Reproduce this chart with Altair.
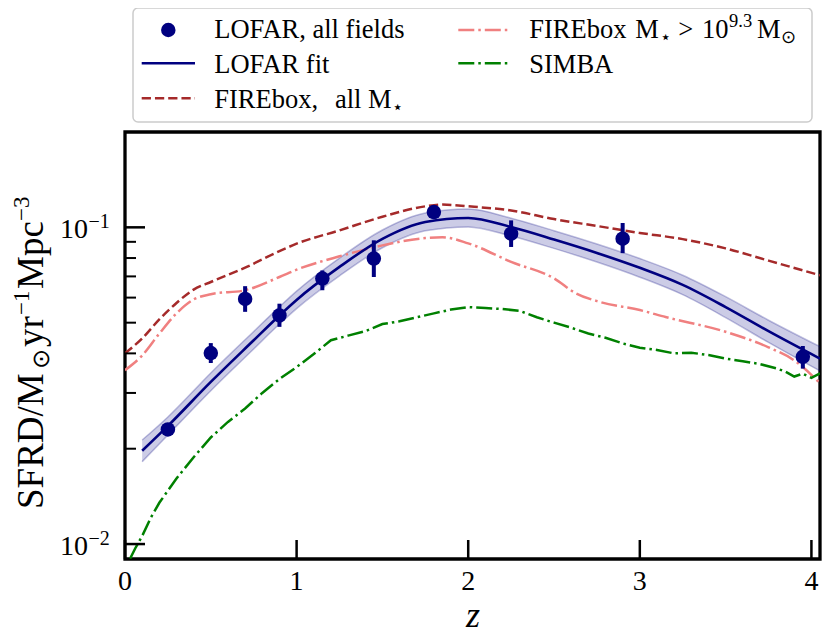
import altair as alt
import pandas as pd

# ---------------- data ----------------
lofar_z = [0.25, 0.50, 0.70, 0.90, 1.15, 1.45, 1.80, 2.25, 2.90, 3.95]
lofar_sfrd = [0.0230, 0.0401, 0.0594, 0.0527, 0.0689, 0.0797, 0.1117, 0.0955, 0.0921, 0.0390]
lofar_lo = [0.0222, 0.0373, 0.0541, 0.0485, 0.0633, 0.0697, 0.1085, 0.0867, 0.0829, 0.0358]
lofar_hi = [0.0238, 0.0431, 0.0652, 0.0574, 0.0731, 0.0910, 0.1150, 0.1052, 0.1032, 0.0422]

fit_z = [0.1, 0.25, 0.5, 0.75, 0.9, 1.0, 1.25, 1.5, 1.75, 2.0, 2.25, 2.5, 2.75, 3.0, 3.25, 3.5, 3.75, 4.05]
fit_mid = [0.0197, 0.0236, 0.0325, 0.0440, 0.0527, 0.0590, 0.0750, 0.0920, 0.1040, 0.1070, 0.1002,
           0.0915, 0.0830, 0.0745, 0.0658, 0.0560, 0.0470, 0.0385]
fit_lo = [0.0182, 0.0221, 0.0305, 0.0413, 0.0495, 0.0554, 0.0703, 0.0862, 0.0975, 0.1003, 0.0939,
          0.0858, 0.0777, 0.0696, 0.0613, 0.0519, 0.0433, 0.0352]
fit_hi = [0.0213, 0.0252, 0.0347, 0.0469, 0.0561, 0.0629, 0.0800, 0.0981, 0.1110, 0.1142, 0.1069,
          0.0976, 0.0886, 0.0797, 0.0706, 0.0604, 0.0509, 0.0420]

fbx_all_z = [0.0, 0.1, 0.2, 0.3, 0.4, 0.5, 0.7, 0.9, 1.0, 1.25, 1.5, 1.75, 1.85, 2.0, 2.25, 2.5, 2.75,
             3.0, 3.25, 3.5, 3.75, 4.05]
fbx_all = [0.0400, 0.0446, 0.0512, 0.0577, 0.0636, 0.0672, 0.0746, 0.0841, 0.0888, 0.0978, 0.1080,
           0.1165, 0.1180, 0.1165, 0.1130, 0.1062, 0.1010, 0.0960, 0.0918, 0.0858, 0.0785, 0.0706]

fbx_hi_z = [0.0, 0.1, 0.2, 0.3, 0.4, 0.5, 0.7, 0.9, 1.0, 1.25, 1.5, 1.75, 1.85, 2.0, 2.25, 2.5, 2.63,
            2.77, 3.0, 3.15, 3.5, 3.75, 3.9, 4.05]
fbx_hi = [0.0354, 0.0394, 0.0462, 0.0535, 0.0592, 0.0615, 0.0633, 0.0697, 0.0735, 0.0810, 0.0877,
          0.0925, 0.0930, 0.0890, 0.0778, 0.0690, 0.0618, 0.0581, 0.0548, 0.0521, 0.0468, 0.0418,
          0.0380, 0.0322]

simba_z = [0.03, 0.06, 0.1, 0.15, 0.2, 0.3, 0.4, 0.5, 0.6, 0.7, 0.8, 0.9, 1.0, 1.1, 1.2, 1.3, 1.4,
           1.5, 1.6, 1.7, 1.8, 1.9, 2.0, 2.1, 2.2, 2.3, 2.4, 2.5, 2.6, 2.7, 2.8, 2.9, 3.0, 3.1, 3.2,
           3.3, 3.4, 3.5, 3.6, 3.7, 3.8, 3.85, 3.9, 3.95, 4.0, 4.05]
simba = [0.0090, 0.0097, 0.0106, 0.0121, 0.0135, 0.0161, 0.0188, 0.0217, 0.0243, 0.0268, 0.0300,
         0.0332, 0.0362, 0.0398, 0.0440, 0.0455, 0.0470, 0.0495, 0.0505, 0.0520, 0.0535, 0.0550,
         0.0560, 0.0556, 0.0552, 0.0545, 0.0520, 0.0500, 0.0482, 0.0462, 0.0448, 0.0430, 0.0417,
         0.0410, 0.0400, 0.0402, 0.0395, 0.0385, 0.0378, 0.0370, 0.0358, 0.0350, 0.0338, 0.0345,
         0.0335, 0.0346]

x_ticks = [0, 1, 2, 3, 4]
x_tick_labels = ["0", "1", "2", "3", "4"]
y_major = [0.01, 0.1]
y_major_exp = ["\u22122", "\u22121"]
y_minor = [0.02, 0.03, 0.04, 0.05, 0.06, 0.07, 0.08, 0.09]

# ---------------- styling ----------------
NAVY = "#000080"
BROWN = "#a52a2a"
CORAL = "#f08080"
GREEN = "#008000"
FONT = "Liberation Serif"
W, H = 695, 427

X = alt.Scale(domain=[0, 4.05], nice=False, zero=False)
Y = alt.Scale(type="log", domain=[0.00897, 0.2], nice=False)


def xe(f):
    return alt.X(f, type="quantitative", scale=X, axis=None)


def ye(f):
    return alt.Y(f, type="quantitative", scale=Y, axis=None)


df_pts = pd.DataFrame({"z": lofar_z, "v": lofar_sfrd, "lo": lofar_lo, "hi": lofar_hi})
df_fit = pd.DataFrame({"z": fit_z, "v": fit_mid, "lo": fit_lo, "hi": fit_hi})
df_fa = pd.DataFrame({"z": fbx_all_z, "v": fbx_all})
df_fh = pd.DataFrame({"z": fbx_hi_z, "v": fbx_hi})
df_sb = pd.DataFrame({"z": simba_z, "v": simba})
df_xt = pd.DataFrame({"z": x_ticks, "lab": x_tick_labels})
df_yt = pd.DataFrame({"v": y_major, "exp": y_major_exp, "base": ["10", "10"]})
df_ym = pd.DataFrame({"v": y_minor})
one = pd.DataFrame({"a": [0]})

band = alt.Chart(df_fit).mark_area(color=NAVY, opacity=0.2, clip=True, interpolate="monotone").encode(
    x=xe("z"), y=ye("lo"), y2="hi")
band_lo = alt.Chart(df_fit).mark_line(color=NAVY, opacity=0.25, strokeWidth=1.5, clip=True,
                                      interpolate="monotone").encode(x=xe("z"), y=ye("lo"))
band_hi = alt.Chart(df_fit).mark_line(color=NAVY, opacity=0.25, strokeWidth=1.5, clip=True,
                                      interpolate="monotone").encode(x=xe("z"), y=ye("hi"))
fit_line = alt.Chart(df_fit).mark_line(color=NAVY, strokeWidth=2.6, clip=True,
                                       interpolate="monotone").encode(x=xe("z"), y=ye("v"))
fa_line = alt.Chart(df_fa).mark_line(color=BROWN, strokeWidth=2.5, strokeDash=[9.25, 4], clip=True,
                                     interpolate="monotone").encode(x=xe("z"), y=ye("v"))
fh_line = alt.Chart(df_fh).mark_line(color=CORAL, strokeWidth=2.5, strokeDash=[16, 4, 2.5, 4], clip=True,
                                     interpolate="monotone").encode(x=xe("z"), y=ye("v"))
sb_line = alt.Chart(df_sb).mark_line(color=GREEN, strokeWidth=2.5, strokeDash=[16, 4, 2.5, 4],
                                     clip=True).encode(x=xe("z"), y=ye("v"))
err = alt.Chart(df_pts).mark_rule(color=NAVY, strokeWidth=4).encode(x=xe("z"), y=ye("lo"), y2="hi")
pts = alt.Chart(df_pts).mark_circle(color=NAVY, size=210, opacity=1).encode(x=xe("z"), y=ye("v"))

# ticks (inward) and tick labels
xt = alt.Chart(df_xt).mark_rule(color="black", strokeWidth=2.5).encode(
    x=xe("z"), y=alt.value(H), y2=alt.value(H - 19))
xl = alt.Chart(df_xt).mark_text(font=FONT, fontSize=28, align="center", baseline="alphabetic",
                                color="black").encode(x=xe("z"), y=alt.value(H + 31), text="lab:N")
yt = alt.Chart(df_yt).mark_rule(color="black", strokeWidth=2.5).encode(
    y=ye("v"), x=alt.value(0), x2=alt.value(20))
ym = alt.Chart(df_ym).mark_rule(color="black", strokeWidth=2).encode(
    y=ye("v"), x=alt.value(0), x2=alt.value(11))
yl = alt.Chart(df_yt).mark_text(font=FONT, fontSize=28, align="right", baseline="alphabetic", dy=11,
                                color="black").encode(y=ye("v"), x=alt.value(-37), text="base:N")
yl_sup = alt.Chart(df_yt).mark_text(font=FONT, fontSize=20, align="left", baseline="alphabetic", dy=1,
                                    color="black").encode(y=ye("v"), x=alt.value(-36.5), text="exp:N")


def txt(s, x, y, size=26.5, angle=0, style="normal", align="left"):
    kw = dict(text=s, font=FONT, fontSize=size, align=align, baseline="alphabetic", color="black",
              fontStyle=style)
    if angle:
        kw["angle"] = angle
    return alt.Chart(one).mark_text(**kw).encode(x=alt.value(x), y=alt.value(y))


# axis titles
xtitle = txt("z", W / 2 + 0.5, H + 68, size=36, style="italic", align="center")
yt_parts = [
    txt("SFRD/M", -82, 377, size=37, angle=270),
    txt("\u2299", -76, 237, size=24, angle=270),
    txt("yr", -82, 215, size=37, angle=270),
    txt("\u22121", -96, 183, size=23, angle=270),
    txt("Mpc", -82, 157, size=37, angle=270),
    txt("\u22123", -96, 89, size=23, angle=270),
]

# legend
leg_box = alt.Chart(one).mark_rect(fill="white", stroke="#cccccc", strokeWidth=1.5, cornerRadius=5).encode(
    x=alt.value(8), x2=alt.value(687), y=alt.value(-124), y2=alt.value(-10))
leg_dot = alt.Chart(one).mark_circle(color=NAVY, size=210, opacity=1).encode(
    x=alt.value(43.3), y=alt.value(-102))


def leg_line(x1, x2, y, color, dash=None, width=2.6):
    kw = dict(color=color, strokeWidth=width)
    if dash:
        kw["strokeDash"] = dash
    return alt.Chart(one).mark_rule(**kw).encode(x=alt.value(x1), x2=alt.value(x2), y=alt.value(y))


R1, R2, R3 = -93.7, -59.3, -23.7
legend = [
    leg_box, leg_dot,
    leg_line(16.7, 70, -68.7, NAVY),
    leg_line(16.7, 70, -33.7, BROWN, [9.25, 4], 2.5),
    leg_line(333.3, 383.3, -102, CORAL, [16, 4, 2.5, 4], 2.5),
    leg_line(333.3, 383.3, -68.7, GREEN, [16, 4, 2.5, 4], 2.5),
    txt("LOFAR, all fields", 89.3, R1),
    txt("LOFAR fit", 89.3, R2),
    txt("FIREbox,", 89.3, R3),
    txt("all M", 210, R3),
    txt("\u22c6", 267, R3 + 5, size=18),
    txt("FIREbox", 404.3, R1),
    txt("M", 510.3, R1),
    txt("\u22c6", 534.5, R1 + 5, size=18),
    txt(">", 553.3, R1),
    txt("10", 577.1, R1),
    txt("9.3", 604, R1 - 11, size=18.5),
    txt("M", 632, R1),
    txt("\u2299", 656, R1 + 5, size=18),
    txt("SIMBA", 404.3, R2),
]

chart = alt.layer(
    band, band_lo, band_hi, fa_line, fh_line, sb_line, fit_line, err, pts,
    xt, xl, yt, ym, yl, yl_sup, xtitle, *yt_parts, *legend
).properties(
    width=W, height=H,
    padding={"left": 117, "top": 124, "right": 3, "bottom": 76},
    autosize="none",
).configure_view(stroke="black", strokeWidth=3.3)

chart.save("out.html", embed_options={"renderer": "svg", "actions": False})
